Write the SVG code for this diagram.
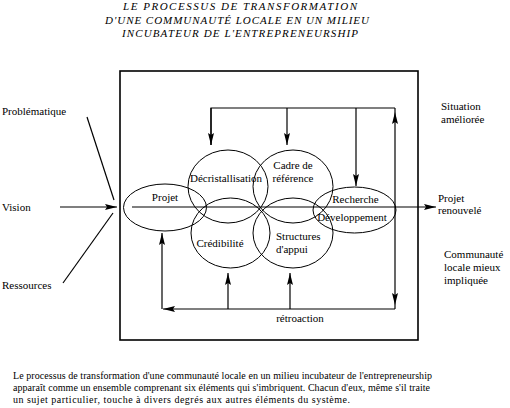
<svg xmlns="http://www.w3.org/2000/svg" width="510" height="408" viewBox="0 0 510 408" font-family="'Liberation Serif', 'DejaVu Serif', serif">
<style>
text{font-family:'Liberation Serif','DejaVu Serif',serif;font-size:11px;fill:#000}
.t{font-style:italic;font-size:11px}
.p{font-size:10px}
.c{text-anchor:middle}
.n{fill:none;stroke:#000;stroke-width:1}
.l{fill:none;stroke:#000;stroke-width:1.2}
.a{marker-end:url(#ah)}
</style>
<defs>
<marker id="ah" viewBox="0 0 12 6" refX="12" refY="3" markerWidth="12" markerHeight="6" orient="auto" markerUnits="userSpaceOnUse">
<path d="M0,0 L12,3 L0,6 L2,3 z" fill="#000"/>
</marker>
</defs>
<rect width="510" height="408" fill="#fff"/>
<g id="title">
<text class="t c" x="240" y="10" textLength="234" lengthAdjust="spacing">LE PROCESSUS DE TRANSFORMATION</text>
<text class="t c" x="237" y="24" textLength="264" lengthAdjust="spacing">D'UNE COMMUNAUTÉ LOCALE EN UN MILIEU</text>
<text class="t c" x="240" y="37" textLength="236" lengthAdjust="spacing">INCUBATEUR DE L'ENTREPRENEURSHIP</text>
</g>
<rect id="frame" x="120" y="71" width="298" height="269" fill="none" stroke="#000" stroke-width="1.6"/>
<g id="connectors">
<line class="l" x1="87" y1="117" x2="114" y2="200"/>
<line class="l" x1="63" y1="283" x2="113" y2="213"/>
<line class="l a" x1="60" y1="207" x2="117" y2="207"/>
<line class="l a" x1="132" y1="207" x2="436" y2="207"/>
<polyline class="l" points="211,145 211,108 395,108"/>
<line class="l a" x1="211" y1="108" x2="211" y2="145"/>
<line class="l a" x1="287" y1="108" x2="287" y2="145"/>
<line class="l a" x1="356" y1="108" x2="356" y2="186"/>
<line class="l a" x1="395" y1="207" x2="395" y2="112"/>
<line class="l" x1="395" y1="112" x2="395" y2="108"/>
<line class="l a" x1="395" y1="207" x2="395" y2="305"/>
<line class="l" x1="395" y1="305" x2="395" y2="309"/>
<line class="l a" x1="395" y1="309" x2="163" y2="309"/>
<line class="l a" x1="162" y1="309" x2="162" y2="233"/>
<line class="l a" x1="228" y1="309" x2="228" y2="273"/>
<line class="l a" x1="290" y1="309" x2="290" y2="273"/>
</g>
<g id="projet">
<ellipse class="n" cx="165" cy="207.5" rx="41.5" ry="23.5"/>
<text class="c" x="165" y="201">Projet</text>
</g>
<g id="decristallisation">
<ellipse class="n" cx="228" cy="186.5" rx="40" ry="36.5"/>
<text class="c" x="226" y="182">Décristallisation</text>
</g>
<g id="cadre">
<ellipse class="n" cx="293" cy="186.5" rx="40" ry="36.5"/>
<text class="c" x="293" y="169">Cadre de</text>
<text class="c" x="293" y="182">référence</text>
</g>
<g id="credibilite">
<ellipse class="n" cx="230.5" cy="233" rx="39.5" ry="35"/>
<text class="c" x="220" y="247">Crédibilité</text>
</g>
<g id="structures">
<ellipse class="n" cx="293" cy="233" rx="40" ry="35"/>
<text x="276" y="240">Structures</text>
<text x="276" y="253">d'appui</text>
</g>
<g id="recherche">
<ellipse class="n" cx="354.5" cy="210" rx="41.5" ry="23"/>
<text class="c" x="355.5" y="203">Recherche</text>
<text class="c" x="352" y="221">Développement</text>
</g>
<g id="labels">
<text x="2" y="115">Problématique</text>
<text x="2" y="211">Vision</text>
<text x="2" y="289">Ressources</text>
<text x="441" y="110">Situation</text>
<text x="441" y="123">améliorée</text>
<text x="438" y="202">Projet</text>
<text x="438" y="214">renouvelé</text>
<text x="444" y="258">Communauté</text>
<text x="444" y="271">locale mieux</text>
<text x="444" y="284">impliquée</text>
<text class="c" x="300" y="322">rétroaction</text>
</g>
<g id="caption">
<text class="p" x="13" y="379" textLength="419" lengthAdjust="spacing">Le processus de transformation d'une communauté locale en un milieu incubateur de l'entrepreneurship</text>
<text class="p" x="13" y="391" textLength="417" lengthAdjust="spacing">apparaît comme un ensemble comprenant six éléments qui s'imbriquent.  Chacun d'eux, même s'il traite</text>
<text class="p" x="13" y="403" textLength="337" lengthAdjust="spacing">un sujet particulier, touche à divers degrés aux autres éléments du système.</text>
</g>
</svg>
